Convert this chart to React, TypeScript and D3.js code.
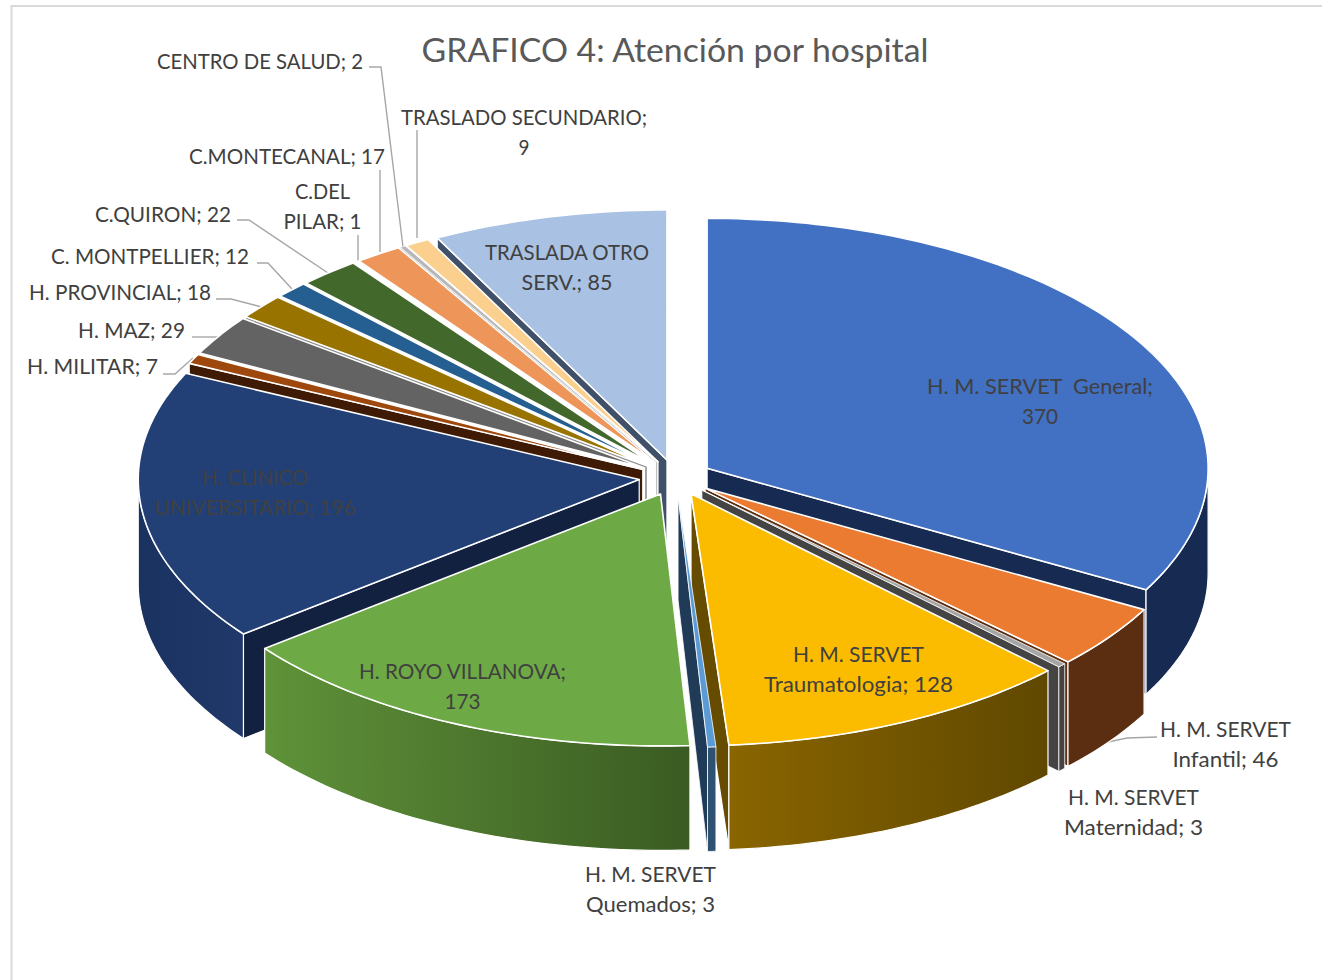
import React from "react";
import * as d3 from "d3";

const categories = ["H. M. SERVET  General","H. M. SERVET Infantil","H. M. SERVET Maternidad","H. M. SERVET Traumatologia","H. M. SERVET Quemados","H. ROYO VILLANOVA","H. CLINICO UNIVERSITARIO","H. MILITAR","H. MAZ","H. PROVINCIAL","C. MONTPELLIER","C.QUIRON","C.DEL PILAR","C.MONTECANAL","CENTRO DE SALUD","TRASLADO SECUNDARIO","TRASLADA OTRO SERV."];
const values = [370,46,3,128,3,173,196,7,29,18,12,22,1,17,2,9,85];
const topColors = ["#4270C2","#EA7B31","#A5A5A5","#FBBC00","#5B9BD5","#6DAA45","#234076","#9E480E","#636363","#997300","#255E91","#43682B","#698ED0","#EE9659","#B7B7B7","#FBD08F","#A9C1E3"];
const faceColors = ["#172A52","#5C2E11","#444444","#654C00","#1F3B57","#3A5B22","#12213F","#3F1A05","#FFFFFF","#8F8F8F","#FFFFFF","#FFFFFF","#FFFFFF","#FFFFFF","#9A9A9A","#C8C8C8","#3F5068"];
const wallLeft = ["#172A52","#5C2E11","#444444","#8A6500","#2F5272","#5F9239","#1A3260","#3F1A05","#3A3A3A","#5C4600","#16385A","#283F1A","#3F5679","#6B4326","#6E6E6E","#7A6030","#3F5068"];
const wallRight = ["#172A52","#5C2E11","#444444","#5F4800","#2F5272","#3A5B22","#20396A","#3F1A05","#3A3A3A","#5C4600","#16385A","#283F1A","#3F5679","#6B4326","#6E6E6E","#7A6030","#3F5068"];

const CX = 675.6, CY = 477.5, RX = 501, RY_BACK = 250, RY_FRONT = 252, EX = 36.6, EY = 18, DEPTH = 104.5;

type Lbl = { i: number; lines: string[]; widths: number[]; x: number; y: number };
const labels: Lbl[] = [
  { i: 0, lines: ["H. M. SERVET  General;", "370"], widths: [226, 36], x: 1040, y: 386 },
  { i: 1, lines: ["H. M. SERVET", "Infantil; 46"], widths: [131, 106], x: 1225.5, y: 729 },
  { i: 2, lines: ["H. M. SERVET", "Maternidad; 3"], widths: [131, 139], x: 1133.5, y: 797 },
  { i: 3, lines: ["H. M. SERVET", "Traumatologia; 128"], widths: [131, 189], x: 858.5, y: 654 },
  { i: 4, lines: ["H. M. SERVET", "Quemados; 3"], widths: [131, 129], x: 650.5, y: 874 },
  { i: 5, lines: ["H. ROYO VILLANOVA;", "173"], widths: [207, 36], x: 462.5, y: 671 },
  { i: 6, lines: ["H. CLINICO", "UNIVERSITARIO; 196"], widths: [106, 201], x: 255, y: 477 },
  { i: 7, lines: ["H. MILITAR; 7"], widths: [131], x: 92.5, y: 366 },
  { i: 8, lines: ["H. MAZ; 29"], widths: [107], x: 131.5, y: 330 },
  { i: 9, lines: ["H. PROVINCIAL; 18"], widths: [182], x: 120, y: 292 },
  { i: 10, lines: ["C. MONTPELLIER; 12"], widths: [198], x: 150, y: 256 },
  { i: 11, lines: ["C.QUIRON; 22"], widths: [136], x: 163, y: 214 },
  { i: 12, lines: ["C.DEL", "PILAR; 1"], widths: [55, 78], x: 322.5, y: 191 },
  { i: 13, lines: ["C.MONTECANAL; 17"], widths: [196], x: 287, y: 156 },
  { i: 14, lines: ["CENTRO DE SALUD; 2"], widths: [206], x: 260, y: 61 },
  { i: 15, lines: ["TRASLADO SECUNDARIO;", "9"], widths: [246, 11], x: 524, y: 117 },
  { i: 16, lines: ["TRASLADA OTRO", "SERV.; 85"], widths: [164, 91], x: 567, y: 252 },
];
const leaders: [number, number][][] = [
  [[369,67],[381,67],[403,247]],
  [[417,130],[417,238]],
  [[380,170],[380,252]],
  [[358,235],[358,262]],
  [[237,220],[249,220],[328,273]],
  [[257,263],[268,263],[292,289]],
  [[216,299],[231,299],[262,307]],
  [[192,337],[222,337]],
  [[163,374],[175,374],[193,358]],
  [[1157,737],[1127,738],[1108,742]],
];

const arcs = d3.pie<number>().sort(null).value(d => d)(values);

function slicePaths(a: d3.PieArcDatum<number>) {
  const mid = (a.startAngle + a.endAngle) / 2;
  const tx = CX + EX * Math.sin(mid), ty = CY - EY * Math.cos(mid);
  const px = (t: number) => tx + RX * Math.sin(t);
  const py = (t: number) => {
    const c = Math.cos(t);
    return ty - (c < 0 ? RY_FRONT : RY_BACK) * c;
  };
  const arcPts = (s: number, e: number, dy = 0) => {
    const n = Math.max(2, Math.ceil((e - s) / 0.02));
    return d3.range(n + 1).map(k => {
      const t = s + ((e - s) * k) / n;
      return [px(t), py(t) + dy] as [number, number];
    });
  };
  const line = d3.line();
  const top = line([[tx, ty], ...arcPts(a.startAngle, a.endAngle)])! + "Z";
  const face = (t: number) =>
    line([[tx, ty], [px(t), py(t)], [px(t), py(t) + DEPTH], [tx, ty + DEPTH]])! + "Z";
  const faces: string[] = [];
  if (Math.sin(a.startAngle) < -1e-6) faces.push(face(a.startAngle));
  if (Math.sin(a.endAngle) > 1e-6) faces.push(face(a.endAngle));
  const s = Math.max(a.startAngle, Math.PI / 2), e = Math.min(a.endAngle, (3 * Math.PI) / 2);
  let wall: string | null = null;
  let x0 = 0, x1 = 0;
  if (e > s) {
    const up = arcPts(s, e);
    const lo = arcPts(s, e, DEPTH).reverse();
    wall = line([...up, ...lo])! + "Z";
    const xs = up.map(p => p[0]);
    x0 = d3.min(xs)!; x1 = d3.max(xs)!;
  }
  return { top, faces, wall, x0, x1, mid };
}

const FONT = "Lato, 'Noto Sans', sans-serif";

export default function App() {
  const slices = arcs.map((a, i) => ({ i, ...slicePaths(a) }));
  const order = d3.range(slices.length).sort((p, q) => Math.cos(slices[q].mid) - Math.cos(slices[p].mid));
  const lp = d3.line();
  const topStroke = (v: number) => (v === 1 ? 2.2 : v < 4 ? 0.8 : 1.6);
  return (
    <svg width={1322} height={980} style={{ position: "absolute", left: 0, top: 0, background: "#fff" }}>
      <defs>
        {slices.map(s => (
          <linearGradient key={s.i} id={`w${s.i}`} gradientUnits="userSpaceOnUse" x1={s.x0} x2={s.x1 + 0.01} y1={0} y2={0}>
            <stop offset="0" stopColor={wallLeft[s.i]} />
            <stop offset="1" stopColor={wallRight[s.i]} />
          </linearGradient>
        ))}
      </defs>
      <rect x={11.5} y={6} width={1340} height={1000} fill="#fff" stroke="#D9D9D9" strokeWidth={2} />
      {leaders.map((l, k) => (
        <path key={k} d={lp(l)!} fill="none" stroke="#A6A6A6" strokeWidth={1.4} />
      ))}
      {order.map(k => {
        const s = slices[k];
        return (
          <g key={k} stroke="#fff" strokeLinejoin="round">
            {s.faces.map((d, j) => <path key={j} d={d} fill={faceColors[k]} strokeWidth={values[k] < 4 ? 0.8 : 1.2} />)}
            {s.wall && <path d={s.wall} fill={`url(#w${k})`} strokeWidth={values[k] < 4 ? 0.8 : 1.2} />}
            <path d={s.top} fill={topColors[k]} strokeWidth={topStroke(values[k])} />
          </g>
        );
      })}
      <text x={675} y={62} textAnchor="middle" fontFamily={FONT} fontSize={33.5} fill="#595959" textLength={507} lengthAdjust="spacingAndGlyphs">GRAFICO 4: Atención por hospital</text>
      {labels.map(l => (
        <g key={l.i} data-name={categories[l.i]} data-value={values[l.i]}>
          {l.lines.map((t, j) => (
            <text key={j} x={l.x} y={l.y + j * 30} dy="0.35em" textAnchor="middle" xmlSpace="preserve" style={{ whiteSpace: "pre" }} fontFamily={FONT} fontSize={21.5} fill="#404040" textLength={l.widths[j]} lengthAdjust="spacingAndGlyphs">{t}</text>
          ))}
        </g>
      ))}
    </svg>
  );
}
